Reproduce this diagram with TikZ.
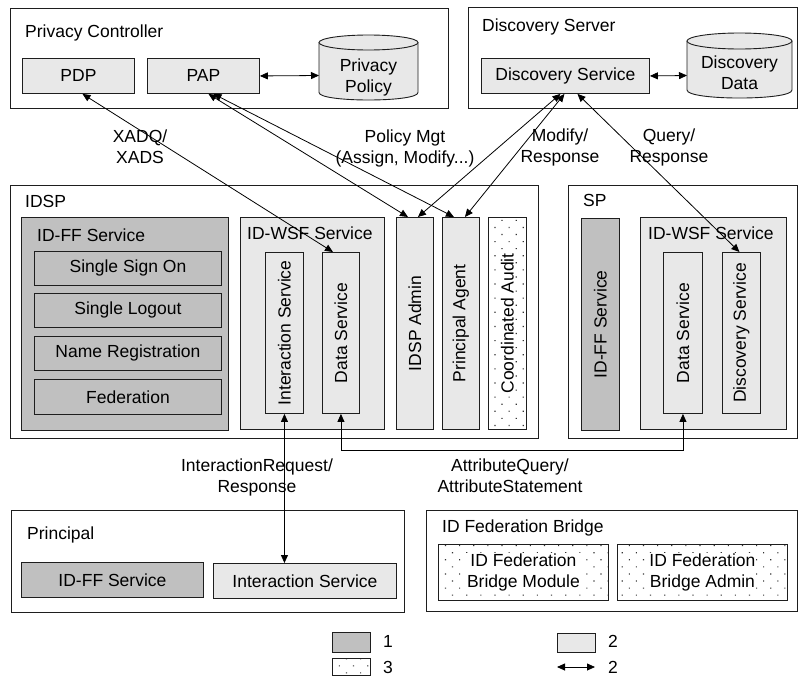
\documentclass[tikz,border=0pt]{standalone}
\usepackage{fontspec}
\setmainfont{Liberation Sans}
\usetikzlibrary{arrows.meta,patterns.meta,calc}
\definecolor{lightg}{RGB}{232,232,232}
\definecolor{darkg}{RGB}{192,192,192}
\definecolor{lc}{RGB}{30,30,30}
\newcommand{\mkbox}[6]{\node[#1, anchor=north west, minimum width={#4pt-#2pt}, minimum height={#5pt-#3pt}] (#6) at (#2,#3)}
\begin{document}
\begin{tikzpicture}[x=1pt,y=-1pt,
  every node/.style={font=\fontsize{17.5}{21}\selectfont, text=black},
  box/.style={draw=lc, line width=0.9pt, inner sep=0pt, align=center},
  plainbox/.style={box, fill=white},
  lightbox/.style={box, fill=lightg},
  darkbox/.style={box, fill=darkg},
  dotbox/.style={box, pattern={Dots[radius=0.8pt,distance=10pt,angle=45]}, pattern color=black!80},
  lbl/.style={inner sep=0pt, anchor=west},
  txt/.style={inner sep=0pt, align=center},
  conn/.style={draw=black, line width=0.8pt, {Triangle[length=8pt,width=7pt]}-{Triangle[length=8pt,width=7pt]}},
  cyl/.style={draw=lc, line width=0.9pt, fill=lightg}
]
\useasboundingbox (0,0) rectangle (799,680);

% ---------- Privacy Controller ----------
\mkbox{plainbox}{10}{8}{448}{108}{pc}{};
\node[lbl] (pcl) at (25,33) {Privacy Controller};
\mkbox{lightbox}{22}{58}{134}{93}{pdp}{PDP};
\mkbox{lightbox}{147}{58}{259}{93}{pap}{PAP};
\draw[cyl] (319,42.5) -- (319,92.5) .. controls (319,102.5) and (418,102.5) .. (418,92.5) -- (418,42.5);
\draw[cyl] (368.5,42.5) ellipse [x radius=49.5, y radius=7.5];
\node[txt] (pp) at (368.5,77) {Privacy\\Policy};
\coordinate (ppw) at (319,75.5);
\draw[conn] (pap.east) -- (ppw);

% ---------- Discovery Server ----------
\mkbox{plainbox}{468}{7}{797}{108}{dsrv}{};
\node[lbl] (dsl) at (482,27) {Discovery Server};
\mkbox{lightbox}{481}{58}{649}{93}{dsv}{Discovery Service};
\draw[cyl] (687,41) -- (687,90) .. controls (687,100.7) and (792,100.7) .. (792,90) -- (792,41);
\draw[cyl] (739.5,41) ellipse [x radius=52.5, y radius=8];
\node[txt] (dd) at (739.5,73) {Discovery\\Data};
\coordinate (ddw) at (687,75.5);
\draw[conn] (dsv.east) -- (ddw);

% ---------- labels between rows ----------
\node[txt] (l1) at (140,147) {XADQ/\\XADS};
\node[txt] (l2) at (405,148) {Policy Mgt\\(Assign, Modify...)};
\node[txt] (l3) at (560,147) {Modify/\\Response};
\node[txt] (l4) at (669,147) {Query/\\Response};

% ---------- IDSP ----------
\mkbox{plainbox}{10}{185}{538}{438}{idsp}{};
\node[lbl] (idspl) at (25,201) {IDSP};
\mkbox{darkbox}{21}{217}{228}{430}{idff}{};
\node[lbl] (idffl) at (37,235) {ID-FF Service};
\mkbox{darkbox}{34}{251}{221}{285}{sso}{Single Sign On};
\mkbox{darkbox}{34}{293}{221}{327}{slo}{Single Logout};
\mkbox{darkbox}{34}{336}{221}{370}{nr}{Name Registration};
\mkbox{darkbox}{34}{379}{221}{414}{fed}{Federation};
\mkbox{lightbox}{240}{217}{384}{429}{iwsf}{};
\node[lbl] (iwsfl) at (247,233) {ID-WSF Service};
\mkbox{lightbox}{265}{252}{303}{413}{isv}{\rotatebox{90}{Interaction Service}};
\mkbox{lightbox}{322}{252}{359}{413}{ids}{\rotatebox{90}{Data Service}};
\mkbox{lightbox}{396}{217}{433}{429}{adm}{\rotatebox{90}{IDSP Admin}};
\mkbox{lightbox}{442}{217}{479}{429}{agt}{\rotatebox{90}{Principal Agent}};
\mkbox{dotbox, label={[fill=white,inner sep=1pt,rotate=90]center:Coordinated Audit}}{488}{217}{526}{429}{aud}{};

% ---------- SP ----------
\mkbox{plainbox}{568}{185}{797}{438}{sp}{};
\node[lbl] (spl) at (583,200) {SP};
\mkbox{darkbox}{581}{218}{619}{430}{spff}{\rotatebox{90}{ID-FF Service}};
\mkbox{lightbox}{640}{217}{786}{429}{spwsf}{};
\node[lbl] (spwsfl) at (648,233) {ID-WSF Service};
\mkbox{lightbox}{663}{252}{702}{413}{spds}{\rotatebox{90}{Data Service}};
\mkbox{lightbox}{722}{252}{760}{413}{spdisc}{\rotatebox{90}{Discovery Service}};

% ---------- Principal ----------
\mkbox{plainbox}{11}{510}{404}{612}{pr}{};
\node[lbl] (prl) at (27,535) {Principal};
\mkbox{darkbox}{21}{562}{203}{597}{pff}{ID-FF Service};
\mkbox{lightbox}{213}{563}{396}{598}{pint}{Interaction Service};

% ---------- ID Federation Bridge ----------
\mkbox{plainbox}{426}{510}{797}{611}{fb}{};
\node[lbl] (fbl) at (442,528) {ID Federation Bridge};
\mkbox{dotbox, label={[fill=white,inner sep=1pt,align=center]center:ID Federation\\Bridge Module}}{438}{544}{608}{600}{fbm}{};
\mkbox{dotbox, label={[fill=white,inner sep=1pt,align=center]center:ID Federation\\Bridge Admin}}{617}{544}{787}{600}{fba}{};

% ---------- bottom labels ----------
\node[txt] (l5) at (257,477) {InteractionRequest/\\Response};
\node[txt] (l6) at (510,476) {AttributeQuery/\\AttributeStatement};

% ---------- connectors ----------
\draw[conn] ([xshift=4pt]pdp.south) -- ([xshift=-8pt]ids.north);
\draw[conn] ([xshift=5pt]pap.south) -- ([xshift=-7pt]adm.north);
\draw[conn] ([xshift=10pt]pap.south) -- ([xshift=-7pt]agt.north);
\draw[conn] ([xshift=-5pt]dsv.south) -- ([xshift=3pt]adm.north);
\draw[conn] ([xshift=-1pt]dsv.south) -- ([xshift=4pt]agt.north);
\draw[conn] ([xshift=12pt]dsv.south) -- ([xshift=-2pt]spdisc.north);
\draw[conn] (isv.south) -- (isv.south |- pint.north);
\draw[conn] (ids.south) -- ++(0,36) -| (spds.south);

% ---------- legend ----------
\mkbox{darkbox}{332}{632}{370}{652}{lg1}{};
\node (lg1t) at (388,641) {1};
\mkbox{dotbox}{332}{658}{370}{675}{lg3}{};
\node (lg3t) at (388,667) {3};
\mkbox{lightbox}{557}{633}{595}{652}{lg2}{};
\node (lg2t) at (613,641) {2};
\coordinate (la1) at (557,667);
\coordinate (la2) at (595,667);
\draw[conn] (la1) -- (la2);
\node (lg4t) at (613,667) {2};
\end{tikzpicture}
\end{document}
